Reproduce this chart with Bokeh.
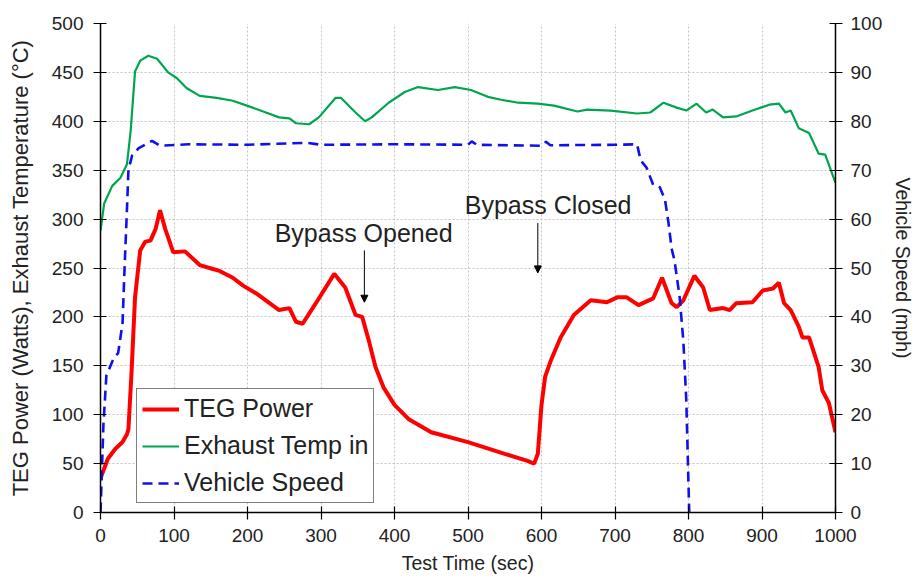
from bokeh.plotting import figure
from bokeh.models import Range1d, LinearAxis, Legend, LegendItem, Arrow, NormalHead, FixedTicker, ColumnDataSource
from bokeh.core.properties import value
from bokeh.embed import file_html
from bokeh.resources import INLINE

# TEG power (W) vs time (s)
teg_t = [0, 5, 10, 20, 30, 36, 38, 42, 47, 54, 61, 68, 75, 81, 88, 99, 115, 135, 153, 162, 180, 194, 212, 230,
         243, 257, 266, 275, 293, 318, 333, 347, 356, 365, 374, 385, 400, 420, 450, 500, 550, 580, 590, 595,
         600, 605, 613, 626, 644, 667, 689, 703, 716, 732, 752, 764, 777, 784, 793, 808, 820, 829, 847, 856,
         865, 887, 901, 915, 923, 930, 939, 950, 955, 964, 977, 982, 991, 1000]
teg_w = [35, 45, 55, 65, 72, 80, 85, 140, 220, 268, 277, 278, 290, 309, 290, 266, 267, 253, 249, 247, 240, 232,
         224, 214, 207, 209, 195, 193, 214, 244, 230, 202, 200, 176, 149, 128, 110, 95, 82, 72, 60, 53, 50, 60,
         110, 139, 156, 179, 202, 217, 215, 220, 220, 212, 219, 240, 214, 210, 217, 242, 230, 207, 209, 207,
         214, 215, 227, 229, 235, 214, 207, 190, 179, 179, 149, 125, 112, 82]

# Exhaust temperature in (°C)
exh_t = [0, 5, 16, 27, 36, 41, 47, 54, 65, 77, 92, 104, 117, 135, 158, 180, 203, 225, 243, 257, 266, 284, 297,
         320, 327, 347, 360, 369, 392, 414, 432, 459, 482, 504, 527, 545, 568, 595, 617, 649, 662, 694, 730,
         748, 766, 784, 797, 811, 824, 833, 847, 865, 887, 910, 923, 932, 939, 950, 964, 977, 986, 1000]
exh_c = [288, 316, 334, 342, 356, 390, 451, 462, 467, 464, 450, 444, 434, 426, 424, 421, 415, 409, 404, 403, 398,
         397, 404, 424, 424, 409, 400, 404, 419, 430, 435, 432, 435, 432, 425, 422, 419, 418, 416, 410, 412, 411,
         408, 409, 419, 414, 411, 418, 409, 412, 404, 405, 411, 417, 418, 409, 411, 393, 388, 367, 366, 337]

# Vehicle speed (mph)
spd_t = [0, 4, 8, 18, 24, 30, 33, 36, 38, 43, 52, 65, 70, 81, 120, 200, 280, 300, 400, 500, 505, 512, 600, 606,
         612, 700, 730, 735, 743, 752, 761, 768, 773, 777, 781, 788, 793, 797, 801]
spd_m = [0, 18, 28, 31.6, 32.6, 38.7, 51, 62, 70, 73, 74.5, 75.6, 76, 75, 75.3, 75.2, 75.6, 75.2, 75.3, 75.2,
         75.9, 75.2, 75.0, 75.8, 75.1, 75.2, 75.3, 72, 70.5, 67, 66.5, 64, 59, 54, 51.5, 44, 35, 23, 0]

x_ticks = list(range(0, 1001, 100))
y_ticks = list(range(0, 501, 50))
r_ticks = list(range(0, 101, 10))

notes = ["Bypass Opened", "Bypass Closed"]
note_x = [358, 609]
note_y = [286, 314]
arrow_x = [359, 595]
arrow_y0 = [268, 296]
arrow_y1 = [215, 245]

FONT = "Liberation Sans"

p = figure(width=917, height=581, output_backend="svg", toolbar_location=None,
           x_range=Range1d(0, 1000), y_range=Range1d(0, 500),
           min_border_left=100, min_border_right=74, min_border_top=23, min_border_bottom=69)
p.extra_y_ranges = {"speed": Range1d(0, 100)}
p.outline_line_color = None
p.background_fill_color = "white"
p.border_fill_color = "white"

red = p.line(teg_t, teg_w, line_color="#ff0000", line_width=4)
green = p.line(exh_t, exh_c, line_color="#00a550", line_width=2.2)
blue = p.line(spd_t, spd_m, line_color="#1010ee", line_width=2.6, line_dash="10 6", y_range_name="speed")

right = LinearAxis(y_range_name="speed", axis_label="Vehicle Speed (mph)")
p.add_layout(right, "right")

for ax in [p.xaxis[0], p.yaxis[0], right]:
    ax.major_label_text_font = FONT
    ax.major_label_text_font_size = "19px"
    ax.major_label_text_color = "#222222"
    ax.axis_label_text_font = FONT
    ax.axis_label_text_font_size = "22px"
    ax.axis_label_text_font_style = "normal"
    ax.axis_label_text_color = "#222222"
    ax.axis_line_color = "black"
    ax.axis_line_width = 1.5
    ax.major_tick_line_color = "black"
    ax.major_tick_line_width = 1.2
    ax.major_tick_in = 6
    ax.major_tick_out = 7
    ax.minor_tick_line_color = None

p.xaxis[0].ticker = FixedTicker(ticks=x_ticks)
p.yaxis[0].ticker = FixedTicker(ticks=y_ticks)
right.ticker = FixedTicker(ticks=r_ticks)
p.xaxis[0].axis_label = "Test Time (sec)"
p.xaxis[0].axis_label_text_font_size = "19.5px"
p.yaxis[0].axis_label = "TEG Power (Watts), Exhaust Temperature (°C)"
right.axis_label_text_font_size = "19.5px"
p.xaxis[0].major_label_standoff = 9
p.xaxis[0].axis_label_standoff = 7
p.yaxis[0].major_label_standoff = 10
p.yaxis[0].axis_label_standoff = 16
right.major_label_standoff = 8
right.axis_label_standoff = 7

p.xgrid.ticker = FixedTicker(ticks=x_ticks)
p.ygrid.ticker = FixedTicker(ticks=y_ticks)
for g in [p.xgrid, p.ygrid]:
    g.grid_line_color = "#c4c4c4"
    g.grid_line_dash = "2 2"
    g.grid_line_width = 1

src = ColumnDataSource(dict(x=note_x, y=note_y, t=notes))
p.text(x="x", y="y", text="t", source=src, text_font=value(FONT), text_font_size="25px",
       text_align="center", text_baseline="middle", text_color="#222222")
for i in range(len(arrow_x)):
    p.add_layout(Arrow(x_start=arrow_x[i], y_start=arrow_y0[i], x_end=arrow_x[i], y_end=arrow_y1[i],
                       line_color="black", line_width=1,
                       end=NormalHead(size=7, fill_color="black", line_color="black")))

legend = Legend(items=[LegendItem(label="TEG Power", renderers=[red]),
                       LegendItem(label="Exhaust Temp in", renderers=[green]),
                       LegendItem(label="Vehicle Speed", renderers=[blue])],
                location=(36, 9))
legend.label_text_font = FONT
legend.label_text_font_size = "25px"
legend.label_text_color = "#222222"
legend.border_line_color = "black"
legend.border_line_width = 1.5
legend.background_fill_alpha = 1
legend.padding = 5
legend.spacing = 8
legend.margin = 0
legend.label_height = 28
legend.glyph_height = 28
legend.glyph_width = 37
legend.label_standoff = 5
p.add_layout(legend, "center")

open("out.html", "w").write(file_html(p, INLINE))
